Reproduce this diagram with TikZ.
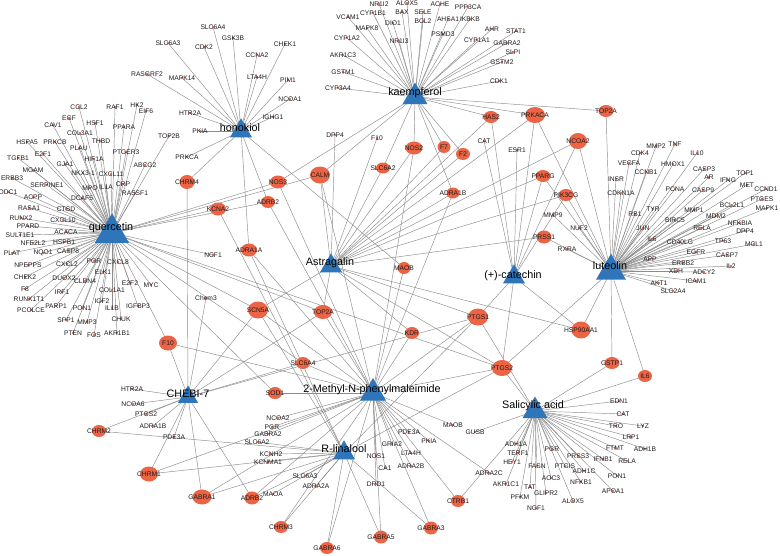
\documentclass[tikz,border=0pt]{standalone}
\usepackage{fontspec}
\setmainfont{Liberation Sans}
\usetikzlibrary{shapes.geometric}
\pgfdeclarelayer{bg}\pgfdeclarelayer{mid}
\pgfsetlayers{bg,mid,main}
\definecolor{hubblue}{RGB}{46,117,186}
\definecolor{nodered}{RGB}{236,100,70}
\definecolor{dotc}{RGB}{225,70,50}
\definecolor{edgec}{RGB}{140,140,140}
\definecolor{txt}{RGB}{30,30,30}
\tikzset{
  tn/.style={font=\fontsize{6.7}{7}\selectfont, text=txt, inner sep=0pt},
  bnode/.style={ellipse, fill=nodered, inner sep=0pt, outer sep=0pt},
  bnl/.style={font=\fontsize{6.7}{7}\selectfont, text=txt, inner sep=0pt},
  hubtri/.style={regular polygon, regular polygon sides=3, fill=hubblue, inner sep=0pt, outer sep=0pt},
  hublab/.style={font=\fontsize{10.8}{12}\selectfont, text=black, inner sep=0pt},
  edge/.style={draw=edgec, line width=0.45pt}
}
\newcommand{\tn}[4]{\node[tn] (#1) at (#2,#3) {#4};\begin{pgfonlayer}{mid}\fill[dotc] (#2,#3) circle[radius=1.1pt];\end{pgfonlayer}}
\newcommand{\bn}[6]{\node[bnode, minimum width=#4pt, minimum height=#5pt] (#1) at (#2,#3) {};\node[bnl] (#1-l) at (#2,#3) {#6};}
\newcommand{\hub}[7]{\node[hubtri, minimum size=#4pt] (#1) at (#2,#3) {};\node[hublab] (#1-l) at (#5,#6) {#7};}
\begin{document}
\begin{tikzpicture}[x=1pt,y=-1pt]
\useasboundingbox (0,0) rectangle (780,555);
\begin{pgfonlayer}{bg}\fill[white] (0,0) rectangle (780,555);\end{pgfonlayer}
% ---------- hubs (positions) ----------
\hub{hQ}{112}{233}{39.3}{111}{228}{quercetin}
\hub{hL}{611}{271}{34.6}{610}{266}{luteolin}
\hub{hK}{415}{97}{28.9}{415}{93}{kaempferol}
\hub{hH}{241}{131}{25.4}{240}{128}{honokiol}
\hub{hA}{331}{266}{25.4}{330}{263}{Astragalin}
\hub{hC}{514}{277}{25.4}{513}{276}{(+)-catechin}
\hub{hCH}{188}{397}{23.1}{188}{394}{CHEBI-7}
\hub{hM}{373}{393}{30}{372}{390}{2-Methyl-N-phenylmaleimide}
\hub{hR}{344}{453}{25.4}{344}{449}{R-linalool}
\hub{hS}{535}{411}{28.9}{533}{406}{Salicylic acid}
% ---------- big shared targets ----------
\bn{bCHRM4}{187}{182}{15}{14}{CHRM4}
\bn{bNOS3}{278}{182}{16}{13}{NOS3}
\bn{bCALM}{320}{175}{20}{17}{CALM}
\bn{bADRB2u}{268}{202}{14}{12}{ADRB2}
\bn{bKCNA2}{218}{209}{16}{13}{KCNA2}
\bn{bADRA1A}{249}{250}{16}{13}{ADRA1A}
\bn{bSCN5A}{258}{310}{20}{17}{SCN5A}
\bn{bF10}{168}{343}{18}{15}{F10}
\bn{bTOP2Al}{323}{312}{18}{14}{TOP2A}
\bn{bSLC6A4}{303}{363}{14}{12}{SLC6A4}
\bn{bSOD1}{275}{393}{14}{12}{SOD1}
\bn{bNOS2}{414}{148}{17}{13}{NOS2}
\bn{bF7}{444}{147}{13}{12}{F7}
\bn{bF2}{463}{154}{14}{12}{F2}
\bn{bHAS2}{491}{117}{15}{12}{HAS2}
\bn{bSLC6A2}{383}{168}{14}{11}{SLC6A2}
\bn{bPRKACA}{535}{115}{20}{16}{PRKACA}
\bn{bTOP2Au}{606}{111}{15}{12}{TOP2A}
\bn{bNCOA2}{578}{141}{18}{16}{NCOA2}
\bn{bPPARG}{543}{176}{15}{12}{PPARG}
\bn{bPIK3CG}{566}{195}{15}{12}{PIK3CG}
\bn{bPRSS1}{544}{237}{15}{13}{PRSS1}
\bn{bHSP}{581}{330}{19}{17}{HSP90AA1}
\bn{bGSTP1}{612}{363}{15}{12}{GSTP1}
\bn{bIL6}{645}{376}{14}{12}{IL6}
\bn{bADRA1B}{453}{193}{13}{11}{ADRA1B}
\bn{bMAOB}{404}{268}{13}{12}{MAOB}
\bn{bKDR}{412}{333}{14}{12}{KDR}
\bn{bPTGS1}{478}{317}{20}{17}{PTGS1}
\bn{bPTGS2}{502}{368}{20}{16}{PTGS2}
\bn{bCHRM2}{99}{431}{14}{12}{CHRM2}
\bn{bCHRM1}{149}{474}{18}{15}{CHRM1}
\bn{bGABRA1}{202}{497}{19}{15}{GABRA1}
\bn{bADRB2l}{252}{498}{15}{13}{ADRB2}
\bn{bCHRM3}{281}{527}{14}{12}{CHRM3}
\bn{bGABRA6}{327}{548}{14}{12}{GABRA6}
\bn{bGABRA5}{381}{537}{14}{13}{GABRA5}
\bn{bGABRA3}{431}{528}{14}{13}{GABRA3}
\bn{bCTRB1}{458}{501}{14}{12}{CTRB1}
% ---------- quercetin targets ----------
\tn{qCCL2}{79}{107}{CCL2}\tn{qRAF1}{115}{107}{RAF1}\tn{qHK2}{137}{105}{HK2}\tn{qEIF6}{146}{111}{EIF6}
\tn{qEGF}{69}{118}{EGF}\tn{qHSF1}{95}{123}{HSF1}\tn{qCAV1}{53}{125}{CAV1}\tn{qPPARA}{124}{127}{PPARA}
\tn{qCOL3A1}{80}{133}{COL3A1}\tn{qHSPA5}{27}{142}{HSPA5}\tn{qPRKCB}{55}{142}{PRKCB}\tn{qTHBD}{101}{141}{THBD}
\tn{qPLAU}{79}{148}{PLAU}\tn{qTOP2B}{169}{136}{TOP2B}\tn{qPTGER3}{126}{152}{PTGER3}\tn{qHIF1A}{94}{159}{HIF1A}
\tn{qTGFB1}{18}{158}{TGFB1}\tn{qE2F1}{43}{154}{E2F1}\tn{qGJA1}{65}{164}{GJA1}\tn{qABCG2}{145}{165}{ABCG2}
\tn{qMGAM}{33}{170}{MGAM}\tn{qNKX}{83}{173}{NKX3-1}\tn{qCXCL11}{111}{174}{CXCL11}\tn{qERBB3}{12}{178}{ERBB3}
\tn{qCRP}{123}{184}{CRP}\tn{qSERPINE1}{47}{185}{SERPINE1}\tn{qMPO}{90}{188}{MPO}\tn{qIL1A}{106}{187}{IL1A}
\tn{qRASSF1}{135}{193}{RASSF1}\tn{qODC1}{8}{192}{ODC1}\tn{qACPP}{33}{197}{ACPP}\tn{qDCAF5}{82}{198}{DCAF5}
\tn{qRASA1}{29}{208}{RASA1}\tn{qCTSD}{66}{209}{CTSD}\tn{qRUNX2}{21}{218}{RUNX2}\tn{qCXCL10}{63}{220}{CXCL10}
\tn{qPPARD}{28}{226}{PPARD}\tn{qACACA}{66}{232}{ACACA}\tn{qSULT1E1}{20}{235}{SULT1E1}\tn{qNFE2L2}{33}{243}{NFE2L2}
\tn{qHSPB1}{64}{242}{HSPB1}\tn{qPLAT}{12}{253}{PLAT}\tn{qNQO1}{43}{253}{NQO1}\tn{qCASP8}{68}{251}{CASP8}
\tn{qNPEPPS}{28}{265}{NPEPPS}\tn{qCXCL2}{67}{264}{CXCL2}\tn{qPOR}{94}{261}{POR}\tn{qCXCL8}{118}{262}{CXCL8}
\tn{qELK1}{103}{272}{ELK1}\tn{qCHEK2}{25}{277}{CHEK2}\tn{qDUOX2}{64}{278}{DUOX2}\tn{qCLDN4}{85}{281}{CLDN4}
\tn{qE2F2}{130}{283}{E2F2}\tn{qMYC}{151}{285}{MYC}\tn{qF8}{25}{289}{F8}\tn{qCOL1A1}{112}{290}{COL1A1}
\tn{qIRF1}{62}{292}{IRF1}\tn{qRUNX1T1}{29}{299}{RUNX1T1}\tn{qPARP1}{56}{306}{PARP1}\tn{qPON1}{82}{308}{PON1}
\tn{qIGF2}{102}{301}{IGF2}\tn{qIL1B}{112}{308}{IL1B}\tn{qIGFBP3}{138}{306}{IGFBP3}\tn{qPCOLCE}{31}{310}{PCOLCE}
\tn{qSPP1}{66}{320}{SPP1}\tn{qMMP3}{87}{322}{MMP3}\tn{qCHUK}{121}{319}{CHUK}\tn{qPTEN}{73}{333}{PTEN}
\tn{qFOS}{94}{335}{FOS}\tn{qAKR1B1}{117}{333}{AKR1B1}\tn{qNCF1}{213}{255}{NCF1}
% ---------- honokiol targets ----------
\tn{hSLC6A4}{213}{27}{SLC6A4}\tn{hSLC6A3}{168}{43}{SLC6A3}\tn{hGSK3B}{233}{38}{GSK3B}\tn{hCDK2}{204}{47}{CDK2}
\tn{hCCNA2}{257}{55}{CCNA2}\tn{hCHEK1}{285}{44}{CHEK1}\tn{hRASGRF2}{147}{74}{RASGRF2}\tn{hMAPK14}{182}{78}{MAPK14}
\tn{hLTA4H}{257}{77}{LTA4H}\tn{hPIM1}{288}{80}{PIM1}\tn{hNCOA1}{290}{99}{NCOA1}\tn{hIGHG1}{273}{117}{IGHG1}
\tn{hHTR2A}{190}{113}{HTR2A}\tn{hPKIA}{200}{131}{PKIA}\tn{hPRKCA}{187}{157}{PRKCA}
% ---------- kaempferol targets ----------
\tn{kNR1I2}{379}{4}{NR1I2}\tn{kALOX5}{407}{3}{ALOX5}\tn{kACHE}{440}{4}{ACHE}\tn{kPPP3CA}{468}{7}{PPP3CA}
\tn{kVCAM1}{348}{17}{VCAM1}\tn{kCYP1B1}{373}{13}{CYP1B1}\tn{kBAX}{402}{12}{BAX}\tn{kSELE}{423}{12}{SELE}
\tn{kBCL2}{423}{21}{BCL2}\tn{kAHSA1}{448}{19}{AHSA1}\tn{kIKBKB}{470}{19}{IKBKB}\tn{kMAPK8}{367}{28}{MAPK8}
\tn{kDIO1}{393}{23}{DIO1}\tn{kAHR}{492}{29}{AHR}\tn{kSTAT1}{516}{31}{STAT1}\tn{kPSMD3}{443}{34}{PSMD3}
\tn{kCYP1A2}{347}{38}{CYP1A2}\tn{kNR1I3}{399}{41}{NR1I3}\tn{kCYP1A1}{477}{40}{CYP1A1}\tn{kGABRA2}{507}{43}{GABRA2}
\tn{kSLPI}{513}{52}{SLPI}\tn{kAKR1C3}{343}{55}{AKR1C3}\tn{kGSTM2}{502}{62}{GSTM2}\tn{kGSTM1}{343}{72}{GSTM1}
\tn{kCDK1}{499}{81}{CDK1}\tn{kCYP3A4}{338}{88}{CYP3A4}
% ---------- Astragalin / catechin targets ----------
\tn{aDPP4}{335}{135}{DPP4}\tn{aF10}{377}{138}{F10}
\tn{cCAT}{484}{141}{CAT}\tn{cESR1}{517}{150}{ESR1}
% ---------- luteolin targets ----------
\tn{lMMP9}{553}{215}{MMP9}\tn{lNUF2}{579}{228}{NUF2}\tn{lRXRA}{567}{249}{RXRA}
\tn{lMMP2}{656}{146}{MMP2}\tn{lTNF}{675}{144}{TNF}\tn{lCDK4}{640}{153}{CDK4}\tn{lIL10}{697}{153}{IL10}
\tn{lVEGFA}{629}{163}{VEGFA}\tn{lHMOX1}{673}{164}{HMOX1}\tn{lCCNB1}{646}{172}{CCNB1}\tn{lCASP3}{704}{169}{CASP3}
\tn{lINSR}{616}{179}{INSR}\tn{lAR}{709}{177}{AR}\tn{lIFNG}{728}{180}{IFNG}\tn{lTOP1}{745}{173}{TOP1}
\tn{lPCNA}{675}{189}{PCNA}\tn{lCASP9}{703}{190}{CASP9}\tn{lMET}{747}{185}{MET}\tn{lCCND1}{766}{189}{CCND1}
\tn{lCDKN1A}{621}{193}{CDKN1A}\tn{lBCL2L1}{732}{205}{BCL2L1}\tn{lPTGES}{762}{199}{PTGES}\tn{lMAPK1}{767}{208}{MAPK1}
\tn{lTYR}{653}{209}{TYR}\tn{lRB1}{635}{214}{RB1}\tn{lMMP1}{694}{210}{MMP1}\tn{lMDM2}{716}{216}{MDM2}
\tn{lBIRC5}{675}{220}{BIRC5}\tn{lNFKBIA}{740}{223}{NFKBIA}\tn{lJUN}{643}{228}{JUN}\tn{lRELA}{702}{228}{RELA}
\tn{lDPP4}{745}{231}{DPP4}\tn{lIL6}{652}{239}{IL6}\tn{lCD40LG}{680}{242}{CD40LG}\tn{lTP63}{723}{241}{TP63}
\tn{lMCL1}{754}{244}{MCL1}\tn{lEGFR}{696}{252}{EGFR}\tn{lCASP7}{727}{255}{CASP7}\tn{lAPP}{650}{259}{APP}
\tn{lERBB2}{683}{263}{ERBB2}\tn{lIL2}{731}{266}{IL2}\tn{lXDH}{676}{271}{XDH}\tn{lADCY2}{704}{272}{ADCY2}
\tn{lICAM1}{696}{281}{ICAM1}\tn{lAKT1}{659}{283}{AKT1}\tn{lSLC2A4}{673}{291}{SLC2A4}
% ---------- CHEBI-7 targets ----------
\tn{chHTR2A}{132}{389}{HTR2A}\tn{chNCOA6}{133}{404}{NCOA6}\tn{chPTGS2}{146}{414}{PTGS2}
\tn{chADRA1B}{153}{426}{ADRA1B}\tn{chPDE3A}{174}{437}{PDE3A}\tn{chChem3}{206}{298}{Chem3}
% ---------- 2-Methyl / R-linalool targets ----------
\tn{mNCOA2}{278}{418}{NCOA2}\tn{mPGR}{272}{427}{PGR}\tn{mGABRA2}{268}{434}{GABRA2}
\tn{rSLC6A2}{257}{442}{SLC6A2}\tn{rKCNH2}{271}{454}{KCNH2}\tn{rKCNMA1}{268}{462}{KCNMA1}
\tn{rSLC6A3}{305}{476}{SLC6A3}\tn{rADRA2A}{316}{486}{ADRA2A}\tn{rMAOA}{273}{494}{MAOA}
\tn{mNOS1}{376}{456}{NOS1}\tn{mGRIA2}{392}{444}{GRIA2}\tn{mCA1}{385}{468}{CA1}\tn{mDRD1}{376}{484}{DRD1}
\tn{mPDE3A}{409}{432}{PDE3A}\tn{mPKIA}{429}{441}{PKIA}\tn{mLTA4H}{411}{453}{LTA4H}\tn{mADRA2B}{411}{466}{ADRA2B}
\tn{mMAOB}{453}{425}{MAOB}\tn{mADRA2C}{489}{473}{ADRA2C}
% ---------- Salicylic acid targets ----------
\tn{sGUSB}{475}{432}{GUSB}\tn{sEDN1}{619}{401}{EDN1}\tn{sCAT}{623}{414}{CAT}\tn{sTRO}{616}{426}{TRO}
\tn{sLYZ}{643}{426}{LYZ}\tn{sLRP1}{631}{437}{LRP1}\tn{sFTMT}{615}{448}{FTMT}\tn{sADH1B}{645}{449}{ADH1B}
\tn{sRELA}{627}{461}{RELA}\tn{sIFNB1}{603}{459}{IFNB1}\tn{sPRSS3}{578}{456}{PRSS3}\tn{sPON1}{617}{476}{PON1}
\tn{sADH1C}{584}{471}{ADH1C}\tn{sAPOA1}{613}{491}{APOA1}\tn{sNFKB1}{581}{482}{NFKB1}\tn{sPTGIS}{565}{466}{PTGIS}
\tn{sPGR}{552}{449}{PGR}\tn{sAOC3}{551}{478}{AOC3}\tn{sALOX5}{573}{501}{ALOX5}\tn{sGLIPR2}{546}{493}{GLIPR2}
\tn{sNGF1}{536}{508}{NGF1}\tn{sTAT}{530}{487}{TAT}\tn{sPFKM}{520}{497}{PFKM}\tn{sAKR1C1}{506}{484}{AKR1C1}
\tn{sHEY1}{512}{462}{HEY1}\tn{sTERF1}{518}{453}{TERF1}\tn{sADH1A}{516}{444}{ADH1A}\tn{sFASN}{537}{466}{FASN}
% ---------- edges ----------
\begin{pgfonlayer}{bg}
\foreach \n in {qCCL2,qRAF1,qHK2,qEIF6,qEGF,qHSF1,qCAV1,qPPARA,qCOL3A1,qHSPA5,qPRKCB,qTHBD,qPLAU,qTOP2B,qPTGER3,qHIF1A,qTGFB1,qE2F1,qGJA1,qABCG2,qMGAM,qNKX,qCXCL11,qERBB3,qCRP,qSERPINE1,qMPO,qIL1A,qRASSF1,qODC1,qACPP,qDCAF5,qRASA1,qCTSD,qRUNX2,qCXCL10,qPPARD,qACACA,qSULT1E1,qNFE2L2,qHSPB1,qPLAT,qNQO1,qCASP8,qNPEPPS,qCXCL2,qPOR,qCXCL8,qELK1,qCHEK2,qDUOX2,qCLDN4,qE2F2,qMYC,qF8,qCOL1A1,qIRF1,qRUNX1T1,qPARP1,qPON1,qIGF2,qIL1B,qIGFBP3,qPCOLCE,qSPP1,qMMP3,qCHUK,qPTEN,qFOS,qAKR1B1,qNCF1,bNOS3,bCALM,bADRB2u,bKCNA2,bSCN5A,bF10,bTOP2Al,bSLC6A4,bSOD1,bPTGS2}
  \draw[edge] (hQ.center) -- (\n.center);
\foreach \n in {hSLC6A4,hSLC6A3,hGSK3B,hCDK2,hCCNA2,hCHEK1,hRASGRF2,hMAPK14,hLTA4H,hPIM1,hNCOA1,hIGHG1,hHTR2A,hPKIA,hPRKCA,bCHRM4,bADRA1A,bADRB2u,bMAOB}
  \draw[edge] (hH.center) -- (\n.center);
\foreach \n in {kNR1I2,kALOX5,kACHE,kPPP3CA,kVCAM1,kCYP1B1,kBAX,kSELE,kBCL2,kAHSA1,kIKBKB,kMAPK8,kDIO1,kAHR,kSTAT1,kPSMD3,kCYP1A2,kNR1I3,kCYP1A1,kGABRA2,kSLPI,kAKR1C3,kGSTM2,kGSTM1,kCDK1,kCYP3A4,bNOS3,bCALM,bNOS2,bF7,bF2,bHAS2,bSLC6A2,bPRKACA,bTOP2Au,bADRA1B}
  \draw[edge] (hK.center) -- (\n.center);
\foreach \n in {aDPP4,aF10,bCALM,bSCN5A,bTOP2Al,bNOS2,bF7,bF2,bHAS2,bSLC6A2,bPRKACA,bNCOA2,bPPARG,bPIK3CG,bPRSS1,bHSP,bADRA1B,bKDR,bPTGS1,bPTGS2}
  \draw[edge] (hA.center) -- (\n.center);
\foreach \n in {cCAT,cESR1,bHAS2,bPRKACA,bNCOA2,bPPARG,bPIK3CG,bHSP,bPTGS1,bPTGS2}
  \draw[edge] (hC.center) -- (\n.center);
\foreach \n in {lMMP9,lNUF2,lRXRA,lMMP2,lTNF,lCDK4,lIL10,lVEGFA,lHMOX1,lCCNB1,lCASP3,lINSR,lAR,lIFNG,lTOP1,lPCNA,lCASP9,lMET,lCCND1,lCDKN1A,lBCL2L1,lPTGES,lMAPK1,lTYR,lRB1,lMMP1,lMDM2,lBIRC5,lNFKBIA,lJUN,lRELA,lDPP4,lIL6,lCD40LG,lTP63,lMCL1,lEGFR,lCASP7,lAPP,lERBB2,lIL2,lXDH,lADCY2,lICAM1,lAKT1,lSLC2A4,bPRKACA,bTOP2Au,bNCOA2,bPPARG,bPIK3CG,bPRSS1,bHSP,bGSTP1,bIL6,bPTGS2}
  \draw[edge] (hL.center) -- (\n.center);
\foreach \n in {chHTR2A,chNCOA6,chPTGS2,chADRA1B,chPDE3A,chChem3,bCHRM4,bSCN5A,bF10,bTOP2Al,bSLC6A4,bPTGS1,bCHRM2,bCHRM1,bGABRA1,bADRB2l}
  \draw[edge] (hCH.center) -- (\n.center);
\foreach \n in {mNCOA2,mPGR,mGABRA2,mNOS1,mGRIA2,mCA1,mDRD1,mPDE3A,mPKIA,mLTA4H,mADRA2B,mMAOB,mADRA2C,bNOS3,bCALM,bADRB2u,bADRA1A,bSCN5A,bF10,bTOP2Al,bSLC6A4,bSOD1,bNOS2,bADRA1B,bMAOB,bKDR,bPTGS1,bPTGS2,bCHRM1,bGABRA1,bADRB2l,bCHRM3,bGABRA6,bGABRA5,bGABRA3,bCTRB1}
  \draw[edge] (hM.center) -- (\n.center);
\foreach \n in {rSLC6A2,rKCNH2,rKCNMA1,rSLC6A3,rADRA2A,rMAOA,bKCNA2,bADRA1A,bSCN5A,bPTGS1,bPTGS2,bCHRM2,bCHRM1,bGABRA1,bADRB2l,bCHRM3,bGABRA6,bGABRA5,bGABRA3}
  \draw[edge] (hR.center) -- (\n.center);
\foreach \n in {sGUSB,sEDN1,sCAT,sTRO,sLYZ,sLRP1,sFTMT,sADH1B,sRELA,sIFNB1,sPRSS3,sPON1,sADH1C,sAPOA1,sNFKB1,sPTGIS,sPGR,sAOC3,sALOX5,sGLIPR2,sNGF1,sTAT,sPFKM,sAKR1C1,sHEY1,sTERF1,sADH1A,sFASN,bPTGS1,bPTGS2,bGSTP1,bIL6,bCTRB1}
  \draw[edge] (hS.center) -- (\n.center);
\end{pgfonlayer}
\end{tikzpicture}
\end{document}
